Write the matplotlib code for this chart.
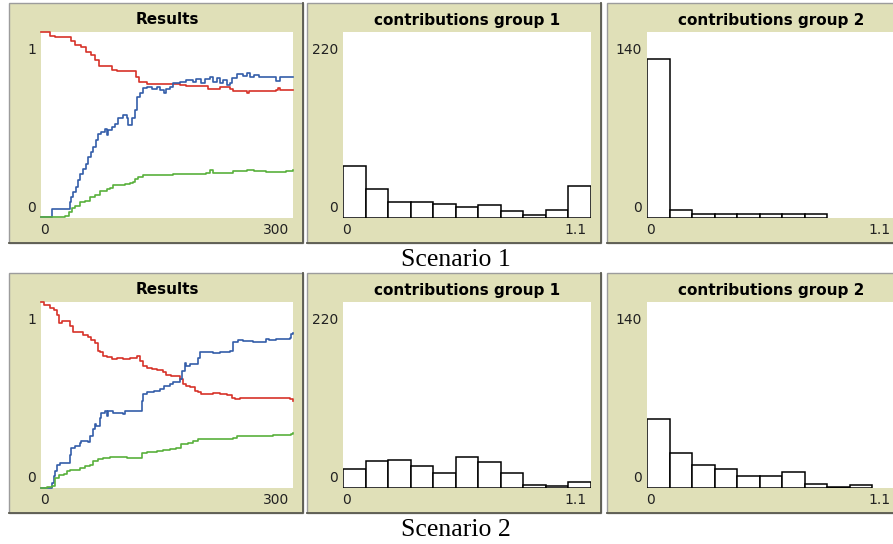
import matplotlib
matplotlib.use("Agg")
import matplotlib.pyplot as plt
from matplotlib.patches import Rectangle
from matplotlib.lines import Line2D

W, H = 893, 544

# ---- data ----
# "Results" plots: (tick, value) pairs, drawn as steps
s1_red = [(0, 1.0), (11, 0.980), (17, 0.973), (32, 0.971), (36, 0.950), (40, 0.932),
          (48, 0.919), (53, 0.892), (59, 0.877), (64, 0.850), (69, 0.815), (75, 0.815),
          (80, 0.818), (84, 0.797), (90, 0.789), (110, 0.789), (113, 0.760), (117, 0.733),
          (126, 0.721), (149, 0.721), (165, 0.714), (173, 0.710), (197, 0.710), (199, 0.695),
          (213, 0.703), (225, 0.695), (228, 0.685), (243, 0.685), (245, 0.670), (248, 0.681),
          (280, 0.688), (282, 0.699), (284, 0.688), (300, 0.688)]
s1_blue = [(0, 0.004), (13, 0.049), (34, 0.085), (36, 0.112), (38, 0.139), (42, 0.166),
           (44, 0.202), (46, 0.238), (50, 0.265), (54, 0.292), (56, 0.328), (59, 0.355),
           (62, 0.382), (66, 0.418), (68, 0.454), (72, 0.463), (76, 0.481), (78, 0.445),
           (80, 0.472), (84, 0.490), (88, 0.508), (92, 0.535), (98, 0.553), (102, 0.535),
           (104, 0.499), (108, 0.535), (112, 0.580), (114, 0.652), (118, 0.670), (122, 0.697),
           (126, 0.706), (132, 0.692), (138, 0.703), (142, 0.688), (146, 0.674), (149, 0.692),
           (153, 0.703), (157, 0.724), (165, 0.733), (173, 0.742), (181, 0.733), (185, 0.746),
           (191, 0.728), (195, 0.746), (201, 0.759), (205, 0.733), (209, 0.751), (213, 0.724),
           (217, 0.742), (221, 0.715), (225, 0.724), (227, 0.751), (233, 0.775), (241, 0.764),
           (245, 0.778), (249, 0.760), (253, 0.769), (260, 0.757), (268, 0.760), (276, 0.760),
           (280, 0.739), (284, 0.760), (292, 0.757), (300, 0.757)]
s1_green = [(0, 0.004), (15, 0.007), (29, 0.013), (33, 0.031), (37, 0.054), (40, 0.067),
            (46, 0.085), (52, 0.094), (58, 0.112), (64, 0.126), (70, 0.144), (78, 0.157),
            (82, 0.162), (86, 0.180), (94, 0.180), (100, 0.184), (106, 0.187), (110, 0.193),
            (112, 0.211), (116, 0.223), (122, 0.229), (138, 0.229), (146, 0.232), (157, 0.234),
            (169, 0.238), (181, 0.238), (197, 0.241), (201, 0.256), (205, 0.241), (221, 0.241),
            (229, 0.252), (237, 0.252), (245, 0.259), (253, 0.252), (268, 0.247), (284, 0.247),
            (292, 0.252), (300, 0.256)]

s2_red = [(0, 1.0), (3, 0.986), (11, 0.968), (15, 0.955), (19, 0.928), (22, 0.888),
          (25, 0.896), (30, 0.896), (34, 0.870), (38, 0.841), (44, 0.838), (50, 0.823),
          (56, 0.811), (60, 0.796), (64, 0.780), (68, 0.739), (70, 0.730), (74, 0.712),
          (78, 0.703), (84, 0.694), (90, 0.697), (98, 0.694), (106, 0.697), (114, 0.708),
          (118, 0.685), (122, 0.658), (126, 0.643), (132, 0.640), (138, 0.636), (145, 0.622),
          (149, 0.607), (155, 0.600), (161, 0.604), (165, 0.586), (169, 0.559), (173, 0.550),
          (177, 0.541), (183, 0.523), (187, 0.514), (191, 0.505), (197, 0.505), (205, 0.510),
          (213, 0.505), (221, 0.499), (227, 0.486), (231, 0.481), (237, 0.486), (252, 0.483),
          (260, 0.486), (268, 0.486), (276, 0.483), (288, 0.483), (296, 0.477), (300, 0.468)]
s2_blue = [(0, 0.0), (11, 0.0), (13, 0.027), (15, 0.063), (17, 0.090), (19, 0.126),
           (23, 0.135), (32, 0.135), (34, 0.180), (36, 0.216), (40, 0.225), (46, 0.243),
           (48, 0.252), (56, 0.247), (58, 0.279), (62, 0.315), (64, 0.342), (66, 0.333),
           (70, 0.378), (72, 0.405), (76, 0.414), (78, 0.387), (80, 0.414), (86, 0.405),
           (94, 0.405), (98, 0.396), (100, 0.414), (118, 0.414), (120, 0.468), (122, 0.505),
           (126, 0.514), (134, 0.523), (142, 0.532), (146, 0.550), (153, 0.559), (157, 0.568),
           (165, 0.586), (168, 0.631), (171, 0.672), (173, 0.658), (177, 0.667), (187, 0.697),
           (189, 0.730), (205, 0.726), (213, 0.730), (225, 0.739), (229, 0.784), (235, 0.798),
           (241, 0.793), (252, 0.787), (264, 0.787), (268, 0.802), (272, 0.798), (280, 0.802),
           (296, 0.805), (298, 0.829), (300, 0.834)]
s2_green = [(0, 0.0), (7, 0.005), (13, 0.013), (17, 0.054), (21, 0.072), (27, 0.077),
            (31, 0.090), (34, 0.099), (40, 0.099), (46, 0.108), (52, 0.117), (58, 0.126),
            (62, 0.144), (68, 0.157), (74, 0.162), (82, 0.166), (90, 0.166), (102, 0.162),
            (116, 0.162), (120, 0.189), (126, 0.193), (138, 0.198), (145, 0.204), (153, 0.207),
            (161, 0.216), (167, 0.234), (175, 0.243), (181, 0.252), (187, 0.261), (197, 0.261),
            (213, 0.265), (229, 0.270), (233, 0.279), (260, 0.279), (276, 0.283), (292, 0.283),
            (298, 0.288), (300, 0.297)]

# histograms: 11 bins of width 0.1 on [0, 1.1]
bin_left = [0.0, 0.1, 0.2, 0.3, 0.4, 0.5, 0.6, 0.7, 0.8, 0.9, 1.0]
s1_group1 = [61, 34, 19, 19, 17, 13, 15, 8, 3, 9, 38]
s1_group2 = [120, 6, 3, 3, 3, 3, 3, 3, 0, 0, 0]
s2_group1 = [22, 32, 33, 26, 18, 37, 31, 18, 3, 2, 7]
s2_group2 = [52, 26, 17, 14, 9, 9, 12, 3, 1, 2, 0]

plot_titles = ["Results", "contributions group 1", "contributions group 2"]
x_max = [300, 1.1, 1.1]
y_max = [1, 220, 140]
x_max_labels = ["300", "1.1", "1.1"]
y_max_labels = ["1", "220", "140"]
scenario_labels = ["Scenario 1", "Scenario 2"]

RED, BLUE, GREEN = "#d73229", "#345da9", "#59b03c"
BEIGE = "#e0e0b8"

# ---- layout (pixels) ----
frames_x = [(9, 303), (307, 601), (607, 901)]
plots_x = [(41, 293), (343, 591), (647, 895)]
row_off = [0, 270]

fig = plt.figure(figsize=(W / 100, H / 100), dpi=100)
fig.patch.set_facecolor("white")


def fbox(x0, y0, x1, y1):
    return [x0 / W, 1 - y1 / H, (x1 - x0) / W, (y1 - y0) / H]


def fpt(x, y):
    return x / W, 1 - y / H


series = [(s1_red, s1_blue, s1_green), (s2_red, s2_blue, s2_green)]
hists = [(s1_group1, s1_group2), (s2_group1, s2_group2)]

for r, dy in enumerate(row_off):
    for c in range(3):
        fx0, fx1 = frames_x[c]
        fy0, fy1 = 3 + dy, 243 + dy
        l, b, w, h = fbox(fx0, fy0, fx1, fy1)
        fig.add_artist(Rectangle((l, b), w, h, transform=fig.transFigure,
                                 facecolor=BEIGE, edgecolor="#9c9c9c", lw=1.0,
                                 zorder=-10))
        # darker bottom / right edge of the widget frame
        fig.add_artist(Line2D([fpt(fx0, fy1)[0], fpt(fx1, fy1)[0], fpt(fx1, fy0)[0]],
                              [fpt(fx0, fy1)[1], fpt(fx1, fy1)[1], fpt(fx1, fy0)[1]],
                              transform=fig.transFigure, color="#5a5a50", lw=1.3,
                              zorder=-9))

        px0, px1 = plots_x[c]
        py0, py1 = 32 + dy, 218 + dy
        ax = fig.add_axes(fbox(px0, py0, px1, py1))
        ax.set_facecolor("white")
        for s in ax.spines.values():
            s.set_visible(False)
        ax.set_xticks([])
        ax.set_yticks([])
        ax.set_xlim(0, x_max[c])
        ax.set_ylim(0, y_max[c])

        if c == 0:
            for data, col in zip(series[r], (RED, BLUE, GREEN)):
                t, v = zip(*data)
                ax.plot(t, v, color=col, lw=1.2, drawstyle="steps-post", clip_on=False)
        else:
            counts = hists[r][c - 1]
            lefts = [x for x, n in zip(bin_left, counts) if n > 0]
            hs = [n for n in counts if n > 0]
            ax.bar(lefts, hs, width=0.1, align="edge", facecolor="white",
                   edgecolor="black", lw=1.1)

        cx = (px0 + px1) / 2
        fig.text(*fpt(cx, 20 + dy), plot_titles[c], ha="center", va="center",
                 fontsize=11, fontweight="bold", color="black")
        fig.text(*fpt(px0 - 5, 50 + dy), y_max_labels[c], ha="right", va="center",
                 fontsize=10, color="#222222")
        fig.text(*fpt(px0 - 5, 208 + dy), "0", ha="right", va="center",
                 fontsize=10, color="#222222")
        fig.text(*fpt(px0 - 1, 230 + dy), "0", ha="left", va="center",
                 fontsize=10, color="#222222")
        fig.text(*fpt(px1 - 4, 230 + dy), x_max_labels[c], ha="right", va="center",
                 fontsize=10, color="#222222")

    fig.text(*fpt(456, 260 + dy), scenario_labels[r], ha="center", va="center",
             fontsize=18.5, family="Liberation Serif", color="black")

fig.savefig("out.png", dpi=100)
